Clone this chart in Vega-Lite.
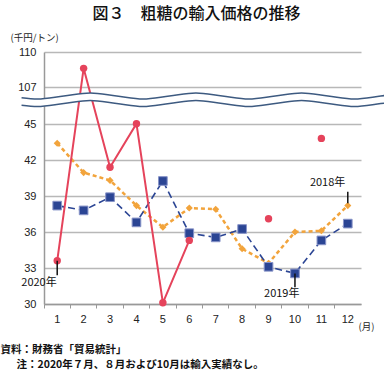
{
  "$schema": "https://vega.github.io/schema/vega-lite/v6.json",
  "width": 317,
  "height": 252,
  "autosize": {"type": "none"},
  "padding": {"left": 44, "top": 52, "right": 23, "bottom": 67},
  "background": "white",
  "title": {
    "text": "図３　粗糖の輸入価格の推移",
    "font": "Noto Sans CJK JP",
    "fontSize": 16,
    "fontWeight": 500,
    "color": "#111",
    "anchor": "middle",
    "frame": "group",
    "dx": -6,
    "offset": 10
  },
  "config": {"view": {"stroke": null}, "font": "Liberation Sans", "axisY": {"labelOverlap": false}, "axis": {"labelOverlap": false}},
  "datasets": {
    "prices": [
      {"year": "2020年", "month": 1, "value": 33.6, "seg": "a"},
      {"year": "2020年", "month": 2, "value": 108.6, "seg": "a"},
      {"year": "2020年", "month": 3, "value": 41.4, "seg": "a"},
      {"year": "2020年", "month": 4, "value": 45.5, "seg": "a"},
      {"year": "2020年", "month": 5, "value": 30.1, "seg": "a"},
      {"year": "2020年", "month": 6, "value": 35.3, "seg": "a"},
      {"year": "2020年", "month": 9, "value": 37.1, "seg": "b"},
      {"year": "2020年", "month": 11, "value": 43.8, "seg": "c"},
      {"year": "2019年", "month": 1, "value": 38.2, "seg": "a"},
      {"year": "2019年", "month": 2, "value": 37.8, "seg": "a"},
      {"year": "2019年", "month": 3, "value": 38.9, "seg": "a"},
      {"year": "2019年", "month": 4, "value": 36.8, "seg": "a"},
      {"year": "2019年", "month": 5, "value": 40.25, "seg": "a"},
      {"year": "2019年", "month": 6, "value": 35.9, "seg": "a"},
      {"year": "2019年", "month": 7, "value": 35.55, "seg": "a"},
      {"year": "2019年", "month": 8, "value": 36.25, "seg": "a"},
      {"year": "2019年", "month": 9, "value": 33.1, "seg": "a"},
      {"year": "2019年", "month": 10, "value": 32.55, "seg": "a"},
      {"year": "2019年", "month": 11, "value": 35.3, "seg": "a"},
      {"year": "2019年", "month": 12, "value": 36.7, "seg": "a"},
      {"year": "2018年", "month": 1, "value": 43.4, "seg": "a"},
      {"year": "2018年", "month": 2, "value": 40.95, "seg": "a"},
      {"year": "2018年", "month": 3, "value": 40.3, "seg": "a"},
      {"year": "2018年", "month": 4, "value": 38.2, "seg": "a"},
      {"year": "2018年", "month": 5, "value": 36.4, "seg": "a"},
      {"year": "2018年", "month": 6, "value": 38.0, "seg": "a"},
      {"year": "2018年", "month": 7, "value": 37.9, "seg": "a"},
      {"year": "2018年", "month": 8, "value": 34.6, "seg": "a"},
      {"year": "2018年", "month": 9, "value": 33.4, "seg": "a"},
      {"year": "2018年", "month": 10, "value": 36.0, "seg": "a"},
      {"year": "2018年", "month": 11, "value": 36.1, "seg": "a"},
      {"year": "2018年", "month": 12, "value": 38.2, "seg": "a"}
    ],
    "labels": [
      {"label": "2020年", "month": 1, "value": 31.75, "top": 33.6, "bottom": 32.4, "align": "left", "shift": -5},
      {"label": "2019年", "month": 10, "value": 30.83, "top": 32.55, "bottom": 31.4, "align": "center", "shift": 0},
      {"label": "2018年", "month": 12, "value": 40.08, "top": 39.35, "bottom": 38.4, "align": "center", "shift": -7}
    ],
    "wave": [
      {"t": -0.35, "up": 88.95, "lo": 76.35},
      {"t": 0.25, "up": 86.9, "lo": 74.3},
      {"t": 1.25, "up": 91.9, "lo": 79.3},
      {"t": 2.25, "up": 96.9, "lo": 84.3},
      {"t": 3.25, "up": 91.9, "lo": 79.3},
      {"t": 4.25, "up": 86.9, "lo": 74.3},
      {"t": 5.25, "up": 91.9, "lo": 79.3},
      {"t": 6.25, "up": 96.9, "lo": 84.3},
      {"t": 7.25, "up": 91.9, "lo": 79.3},
      {"t": 8.25, "up": 86.9, "lo": 74.3},
      {"t": 9.25, "up": 91.9, "lo": 79.3},
      {"t": 10.25, "up": 96.9, "lo": 84.3},
      {"t": 11.25, "up": 91.9, "lo": 79.3},
      {"t": 12.25, "up": 86.9, "lo": 74.3},
      {"t": 13.25, "up": 91.9, "lo": 79.3},
      {"t": 13.4, "up": 92.7, "lo": 80.1}
    ]
  },
  "layer": [
    {
      "encoding": {
        "x": {
          "field": "month",
          "type": "ordinal",
          "scale": {"type": "band", "domain": [1,2,3,4,5,6,7,8,9,10,11,12], "paddingInner": 0, "paddingOuter": 0},
          "axis": {
            "title": "(月)",
            "titleFont": "Noto Sans CJK JP",
            "titleFontSize": 9.5,
            "titleFontWeight": "normal",
            "titleColor": "#222",
            "titleX": 314,
            "titleY": 22,
            "titleAlign": "left",
            "titleBaseline": "middle",
            "labelAngle": 0,
            "labelFont": "Liberation Sans",
            "labelFontSize": 11,
            "labelColor": "#222",
            "labelPadding": 5,
            "bandPosition": 0,
            "tickSize": 4,
            "tickColor": "#999",
            "domainColor": "#999",
            "domainWidth": 1.5,
            "grid": false
          }
        },
        "y": {
          "type": "quantitative",
          "scale": {"domain": [30, 45, 107, 110], "range": [252, 72, 35, 0], "nice": false, "zero": false},
          "axis": {
            "title": "(千円/トン)",
            "titleFont": "Noto Sans CJK JP",
            "titleFontSize": 9.5,
            "titleFontWeight": "normal",
            "titleColor": "#222",
            "titleAngle": 0,
            "titleX": -34,
            "titleY": -15,
            "titleAlign": "left",
            "titleBaseline": "middle",
            "values": [30, 33, 36, 39, 42, 45, 107, 110],
            "labelOverlap": false,
            "labelFont": "Liberation Sans",
            "labelFontSize": 11,
            "labelColor": "#222",
            "labelPadding": 8,
            "ticks": false,
            "domainColor": "#999",
            "domainWidth": 1.5,
            "grid": true,
            "gridColor": "#b8b8b8",
            "gridWidth": 1.5
          }
        }
      },
      "layer": [
        {
          "data": {"name": "prices"},
          "transform": [{"filter": "datum.year === '2018年'"}],
          "layer": [
            {"mark": {"type": "line", "color": "#f2a43c", "strokeWidth": 2.5, "strokeDash": [4, 3]}, "encoding": {"y": {"field": "value"}}},
            {"mark": {"type": "point", "shape": "diamond", "filled": true, "color": "#f2a43c", "size": 50, "opacity": 1}, "encoding": {"y": {"field": "value"}}}
          ]
        },
        {
          "data": {"name": "prices"},
          "transform": [{"filter": "datum.year === '2019年'"}],
          "layer": [
            {"mark": {"type": "line", "color": "#2b4594", "strokeWidth": 1.6, "strokeDash": [7, 4]}, "encoding": {"y": {"field": "value"}}},
            {"mark": {"type": "point", "shape": "square", "filled": true, "fill": "#2b4594", "stroke": "#8894c8", "strokeWidth": 1, "size": 75, "opacity": 1}, "encoding": {"y": {"field": "value"}}}
          ]
        },
        {
          "data": {"name": "prices"},
          "transform": [{"filter": "datum.year === '2020年'"}],
          "layer": [
            {"mark": {"type": "line", "color": "#e5435b", "strokeWidth": 2}, "encoding": {"y": {"field": "value"}, "detail": {"field": "seg"}}},
            {"mark": {"type": "point", "shape": "circle", "filled": true, "color": "#e5435b", "size": 55, "opacity": 1}, "encoding": {"y": {"field": "value"}}}
          ]
        },
        {
          "data": {"name": "labels"},
          "layer": [
            {"mark": {"type": "rule", "color": "#111", "strokeWidth": 1.5}, "encoding": {"y": {"field": "top"}, "y2": {"field": "bottom"}}},
            {"mark": {"type": "text", "font": "Noto Sans CJK JP", "fontSize": 11, "color": "#111", "baseline": "middle"}, "encoding": {"y": {"field": "value"}, "text": {"field": "label"}, "align": {"field": "align", "type": "nominal", "scale": null}, "xOffset": {"field": "shift", "type": "quantitative", "scale": null}}}
          ]
        }
      ]
    },
    {
      "data": {"name": "wave"},
      "encoding": {
        "x": {
          "field": "t",
          "type": "quantitative",
          "scale": {"domain": [0.5, 12.5], "nice": false, "zero": false},
          "axis": {
            "orient": "bottom",
            "labels": false,
            "ticks": false,
            "domain": false,
            "grid": false,
            "title": ["資料：財務省「貿易統計」", "\u2800\u2800注：2020年７月、８月および10月は輸入実績なし。"],
            "titleFont": "Noto Sans CJK JP",
            "titleFontSize": 10.5,
            "titleFontWeight": "bold",
            "titleColor": "#111",
            "titleLineHeight": 15,
            "titleX": -44,
            "titleY": 40,
            "titleAlign": "left",
            "titleBaseline": "top"
          }
        }
      },
      "layer": [
        {"mark": {"type": "area", "color": "white", "opacity": 1, "interpolate": "monotone"}, "encoding": {"y": {"field": "up", "type": "quantitative", "title": "(千円/トン)", "axis": {"values": [30, 33, 36, 39, 42, 45, 107, 110], "labelOverlap": false}}, "y2": {"field": "lo"}}},
        {"mark": {"type": "line", "color": "#3d5a80", "strokeWidth": 1.5, "interpolate": "monotone"}, "encoding": {"y": {"field": "up", "type": "quantitative", "title": "(千円/トン)", "axis": {"values": [30, 33, 36, 39, 42, 45, 107, 110], "labelOverlap": false}}}},
        {"mark": {"type": "line", "color": "#3d5a80", "strokeWidth": 1.5, "interpolate": "monotone"}, "encoding": {"y": {"field": "lo", "type": "quantitative", "title": "(千円/トン)", "axis": {"values": [30, 33, 36, 39, 42, 45, 107, 110], "labelOverlap": false}}}}
      ]
    }
  ],
  "resolve": {"scale": {"x": "independent"}, "axis": {"x": "independent"}}
}
